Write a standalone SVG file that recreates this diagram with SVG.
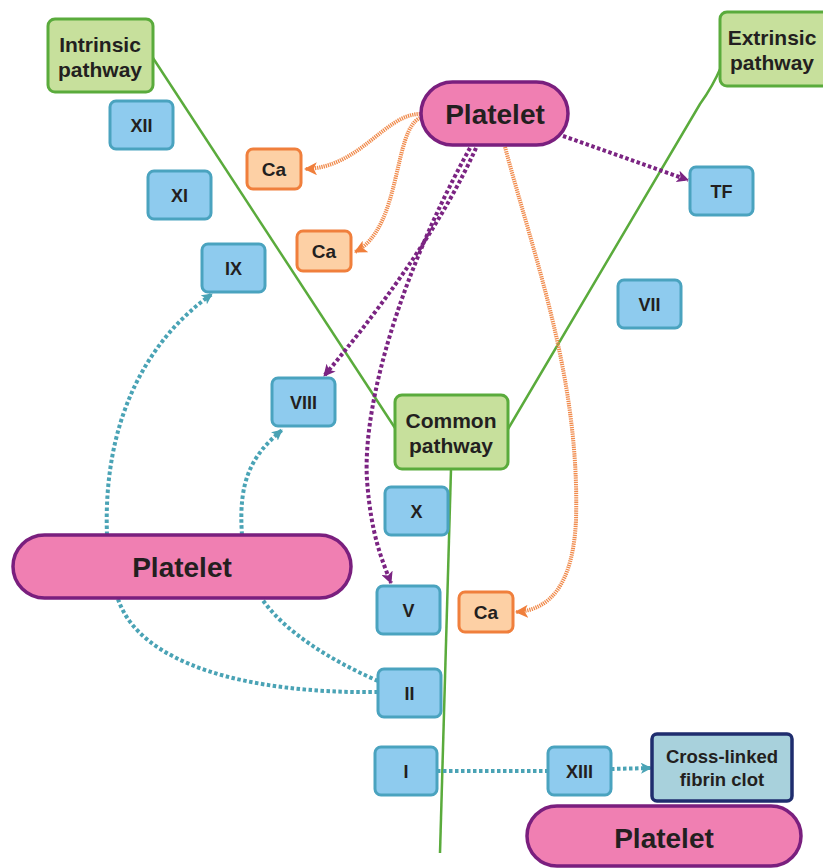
<svg xmlns="http://www.w3.org/2000/svg" width="823" height="868" viewBox="0 0 823 868">
<style>
text{font-family:"Liberation Sans",Arial,sans-serif;font-weight:bold;fill:#231f20;text-anchor:middle}
.f{fill:#8ecbee;stroke:#4aa3bf;stroke-width:3}
.g{fill:#c7e09c;stroke:#5aab3c;stroke-width:3}
.ca{fill:#fdd0a5;stroke:#f07f3c;stroke-width:3}
.pl{fill:#f07fb2;stroke:#7a1f7e;stroke-width:3.5}
.cl{fill:#a8d1dc;stroke:#1f2d6e;stroke-width:3.5}
.s{font-size:18px}
.c{font-size:19px}
.k{font-size:18.5px}
.m{font-size:21px}
.b{font-size:28px}
.gl{fill:none;stroke:#5aab3c;stroke-width:2.5}
.o{fill:none;stroke:#f08a4b;stroke-width:4;stroke-dasharray:1.3 0.9}
.p{fill:none;stroke:#7b2482;stroke-width:4;stroke-dasharray:3.5 2.5}
.t{fill:none;stroke:#4aa3b5;stroke-width:4;stroke-dasharray:3.5 2.5}
</style>
<defs>
<marker id="ao" viewBox="0 0 12 12" refX="11" refY="6" markerWidth="13" markerHeight="13" markerUnits="userSpaceOnUse" orient="auto"><path d="M0,0 L12,6 L0,12 L3,6 Z" fill="#f07f3c"/></marker>
<marker id="ap" viewBox="0 0 12 12" refX="11" refY="6" markerWidth="12" markerHeight="12" markerUnits="userSpaceOnUse" orient="auto"><path d="M0,0 L12,6 L0,12 L3,6 Z" fill="#7b2482"/></marker>
<marker id="at" viewBox="0 0 12 12" refX="11" refY="6" markerWidth="11" markerHeight="11" markerUnits="userSpaceOnUse" orient="auto"><path d="M0,0 L12,6 L0,12 L3,6 Z" fill="#4aa3b5"/></marker>
</defs>
<g id="connectors">
<path class="gl" d="M153,58 L395,428"/>
<path class="gl" d="M721,67 Q713,86 700,104 L508,429"/>
<path class="gl" d="M451,469 L440,853"/>
<path class="o" d="M420,114 C385,114 360,168 305,169" marker-end="url(#ao)"/>
<path class="o" d="M420,118 C393,130 402,228 355,252" marker-end="url(#ao)"/>
<path class="o" d="M505,147 C535,260 580,380 576,520 C573,585 550,610 516,612" marker-end="url(#ao)"/>
<path class="p" d="M563,136 L688,180" marker-end="url(#ap)"/>
<path class="p" d="M476,148 Q430,250 324,376" marker-end="url(#ap)"/>
<path class="p" d="M470,148 C405,265 362,400 367,480 C371,535 382,560 391,583" marker-end="url(#ap)"/>
<path class="t" d="M107,535 C103,430 140,345 212,294" marker-end="url(#at)"/>
<path class="t" d="M242,535 C238,480 252,455 282,430" marker-end="url(#at)"/>
<path class="t" d="M378,692 C250,694 140,665 118,599"/>
<path class="t" d="M378,681 C330,660 285,632 262,599"/>
<path class="t" d="M437,771 L547,771"/>
<path class="t" d="M611,769 L651,768" marker-end="url(#at)"/>
</g>
<g id="intrinsic"><rect class="g" x="48" y="19" width="105" height="73" rx="7"/><text class="m" x="100" y="52">Intrinsic</text><text class="m" x="100" y="77">pathway</text></g>
<g id="extrinsic"><rect class="g" x="720" y="12" width="110" height="74" rx="7"/><text class="m" x="772" y="45">Extrinsic</text><text class="m" x="772" y="70">pathway</text></g>
<g id="common"><rect class="g" x="395" y="395" width="113" height="74" rx="7"/><text class="m" x="451" y="428">Common</text><text class="m" x="451" y="453">pathway</text></g>
<g id="platelet-top"><rect class="pl" x="421" y="82" width="147" height="63" rx="31.5"/><text class="b" x="495" y="124">Platelet</text></g>
<g id="platelet-left"><rect class="pl" x="13" y="535" width="338" height="63" rx="31.5"/><text class="b" x="182" y="577">Platelet</text></g>
<g id="platelet-bottom"><rect class="pl" x="527" y="806" width="274" height="60" rx="30"/><text class="b" x="664" y="848">Platelet</text></g>
<g id="XII"><rect class="f" x="110" y="101" width="63" height="48" rx="6"/><text class="s" x="141.5" y="131.5">XII</text></g>
<g id="XI"><rect class="f" x="148" y="171" width="63" height="48" rx="6"/><text class="s" x="179.5" y="201.5">XI</text></g>
<g id="IX"><rect class="f" x="202" y="244" width="63" height="48" rx="6"/><text class="s" x="233.5" y="274.5">IX</text></g>
<g id="Ca1"><rect class="ca" x="247" y="149" width="54" height="40" rx="6"/><text class="c" x="274" y="176">Ca</text></g>
<g id="Ca2"><rect class="ca" x="297" y="231" width="54" height="40" rx="6"/><text class="c" x="324" y="258">Ca</text></g>
<g id="TF"><rect class="f" x="690" y="167" width="63" height="48" rx="6"/><text class="s" x="721.5" y="197.5">TF</text></g>
<g id="VII"><rect class="f" x="618" y="280" width="63" height="48" rx="6"/><text class="s" x="649.5" y="310.5">VII</text></g>
<g id="VIII"><rect class="f" x="272" y="378" width="63" height="48" rx="6"/><text class="s" x="303.5" y="408.5">VIII</text></g>
<g id="X"><rect class="f" x="385" y="487" width="63" height="48" rx="6"/><text class="s" x="416.5" y="517.5">X</text></g>
<g id="V"><rect class="f" x="377" y="586" width="63" height="48" rx="6"/><text class="s" x="408.5" y="616.5">V</text></g>
<g id="Ca3"><rect class="ca" x="459" y="592" width="54" height="40" rx="6"/><text class="c" x="486" y="619">Ca</text></g>
<g id="II"><rect class="f" x="378" y="669" width="63" height="48" rx="6"/><text class="s" x="409.5" y="699.5">II</text></g>
<g id="I"><rect class="f" x="375" y="747" width="62" height="48" rx="6"/><text class="s" x="406" y="777.5">I</text></g>
<g id="XIII"><rect class="f" x="548" y="747" width="63" height="48" rx="6"/><text class="s" x="579.5" y="777.5">XIII</text></g>
<g id="clot"><rect class="cl" x="652" y="734" width="140" height="67" rx="5"/><text class="k" x="722" y="763">Cross-linked</text><text class="k" x="722" y="786">fibrin clot</text></g>
</svg>
